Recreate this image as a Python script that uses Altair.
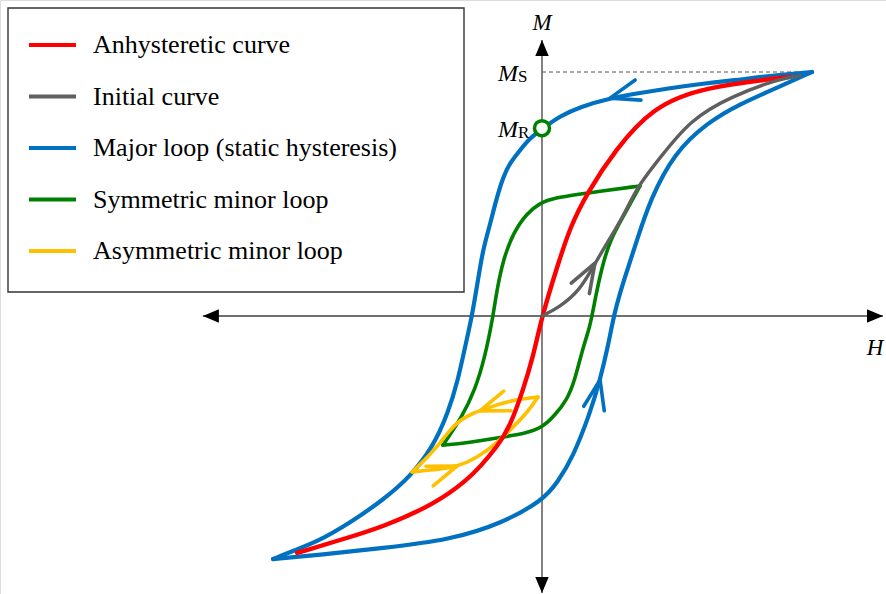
import altair as alt
import pandas as pd

# ---------------------------------------------------------------------------
# Curve samples: H in arbitrary field units, M normalised so that M_S = 1
# ---------------------------------------------------------------------------
SERIES = ["Anhysteretic curve", "Initial curve", "Major loop (static hysteresis)",
          "Symmetric minor loop", "Asymmetric minor loop"]
COLORS = ["#ff0000", "#5f5f5f", "#0070c0", "#008000", "#ffc000"]

# major loop, descending branch (+saturation -> -saturation)
major_down_h = [10.00, 8.07, 7.22, 5.85, 4.74, 3.63, 2.52, 1.41, 0.67, 0.04, -0.44,
                -0.81, -1.19, -1.44, -1.70, -1.93, -2.19, -2.37, -2.59, -2.85, -3.11,
                -3.48, -4.04, -4.89, -5.89, -7.11, -8.33, -9.33, -9.96]
major_down_m = [1.000, 0.980, 0.967, 0.951, 0.934, 0.914, 0.893, 0.857, 0.820, 0.770, 0.730,
                0.680, 0.627, 0.570, 0.475, 0.373, 0.270, 0.148, 0.000, -0.127, -0.262,
                -0.398, -0.537, -0.660, -0.754, -0.848, -0.926, -0.967, -0.996]
# major loop, ascending branch (-saturation -> +saturation)
major_up_h = [-9.96, -8.33, -5.89, -3.41, -1.44, 0.04, 0.56, 1.15, 1.78, 2.15, 2.44,
              2.70, 3.07, 3.52, 4.00, 4.89, 6.15, 7.33, 8.67, 10.00]
major_up_m = [-0.996, -0.980, -0.951, -0.918, -0.848, -0.754, -0.684, -0.578, -0.398, -0.262, -0.127,
              0.025, 0.160, 0.311, 0.475, 0.668, 0.795, 0.869, 0.934, 1.000]

# anhysteretic curve
anhys_h = [-9.07, -7.48, -5.89, -3.89, -2.78, -2.30, -1.67, -1.19, -0.70, -0.33, 0.00,
           0.56, 1.04, 1.67, 2.70, 4.11, 5.96, 9.19]
anhys_m = [-0.971, -0.918, -0.865, -0.766, -0.672, -0.619, -0.537, -0.455, -0.303, -0.168, 0.000,
           0.201, 0.365, 0.504, 0.680, 0.857, 0.939, 0.980]

# initial magnetisation curve
init_h = [0.00, 0.67, 1.41, 1.89, 2.41, 3.00, 3.52, 4.37, 5.48, 6.96, 8.85, 9.56]
init_m = [0.000, 0.037, 0.107, 0.201, 0.299, 0.406, 0.529, 0.648, 0.803, 0.898, 0.975, 0.984]

# symmetric minor loop
sym_down_h = [3.63, 1.67, 0.41, -0.07, -0.56, -1.07, -1.44, -1.67, -1.81, -2.11, -2.48, -2.96, -3.67]
sym_down_m = [0.533, 0.504, 0.484, 0.463, 0.422, 0.340, 0.230, 0.107, 0.000, -0.168, -0.303, -0.414, -0.529]
sym_up_h = [-3.67, -2.78, -1.67, -0.56, 0.04, 0.48, 0.93, 1.22, 1.52, 1.78, 1.96, 2.22, 2.52, 3.00, 3.63]
sym_up_m = [-0.529, -0.520, -0.500, -0.480, -0.455, -0.406, -0.344, -0.262, -0.127, -0.045, 0.066,
            0.201, 0.311, 0.406, 0.533]

# asymmetric minor loop
asym_down_h = [-0.15, -1.07, -1.93, -2.56, -3.04, -3.41, -3.89, -4.41, -4.81]
asym_down_m = [-0.332, -0.344, -0.373, -0.398, -0.426, -0.467, -0.537, -0.598, -0.639]
asym_up_h = [-4.81, -4.04, -3.15, -2.41, -1.67, -1.07, -0.56, -0.15]
asym_up_m = [-0.639, -0.631, -0.619, -0.582, -0.520, -0.455, -0.398, -0.332]

# direction arrows drawn on the curves
arrow_series = [SERIES[2], SERIES[2], SERIES[1], SERIES[4], SERIES[4]]
arrow_h = [2.52, 2.15, 1.96, -2.30, -3.15]
arrow_m = [0.893, -0.262, 0.217, -0.389, -0.615]
arrow_angle = [164, 282, 300, 160, 340]

# characteristic values
M_S = 1.0
M_R = 0.77
H_MAX = 10.0

# axis extents (arrow tips)
h_axis = [-12.56, 12.63]
m_axis = [-1.135, 1.131]

# ---------------------------------------------------------------------------
rows = []
branches = [
    (SERIES[2], "major_down", major_down_h, major_down_m),
    (SERIES[2], "major_up", major_up_h, major_up_m),
    (SERIES[0], "anhys", anhys_h, anhys_m),
    (SERIES[1], "init", init_h, init_m),
    (SERIES[3], "sym_down", sym_down_h, sym_down_m),
    (SERIES[3], "sym_up", sym_up_h, sym_up_m),
    (SERIES[4], "asym_down", asym_down_h, asym_down_m),
    (SERIES[4], "asym_up", asym_up_h, asym_up_m),
]
for series, branch, hs, ms in branches:
    for i, (h, m) in enumerate(zip(hs, ms)):
        rows.append({"series": series, "branch": branch, "idx": i, "H": h, "M": m})
curves = pd.DataFrame(rows)

arrows = pd.DataFrame({"series": arrow_series, "H": arrow_h, "M": arrow_m, "angle": arrow_angle})

axes_df = pd.DataFrame({
    "H": [h_axis[0], 0.0], "H2": [h_axis[1], 0.0],
    "M": [0.0, m_axis[0]], "M2": [0.0, m_axis[1]],
})
tips_df = pd.DataFrame({
    "H": [h_axis[0], h_axis[1], 0.0, 0.0],
    "M": [0.0, 0.0, m_axis[0], m_axis[1]],
    "angle": [180, 0, 90, 270],
})
sat_df = pd.DataFrame({"H": [0.0], "H2": [H_MAX], "M": [M_S]})
mr_df = pd.DataFrame({"H": [0.0], "M": [M_R]})

W, H = 886, 594
FONT = "Liberation Serif"
xs = alt.Scale(domain=[-20.074, 12.741], nice=False, zero=False)
ys = alt.Scale(domain=[-1.1393, 1.2951], nice=False, zero=False)
X = alt.X("H:Q", scale=xs, axis=None)
Y = alt.Y("M:Q", scale=ys, axis=None)

legend = alt.Legend(
    orient="none", legendX=27, legendY=19.5, title=None,
    symbolType="stroke", symbolSize=2209, symbolStrokeWidth=4,
    labelFont=FONT, labelFontSize=26, labelColor="black", labelLimit=600,
    labelOffset=15, rowPadding=12.5, padding=0, symbolOffset=0,
)
COLOR = alt.Color("series:N", scale=alt.Scale(domain=SERIES, range=COLORS), legend=legend)

frame = alt.Chart(pd.DataFrame({"k": [0]})).mark_rect(
    fill="white", stroke="#333333", strokeWidth=1.4
).encode(x=alt.value(8), x2=alt.value(464), y=alt.value(8), y2=alt.value(292))

axis_lines = alt.Chart(axes_df).mark_rule(color="#404040", strokeWidth=1.3).encode(
    x=X, x2="H2:Q", y=Y, y2="M2:Q")

axis_tips = alt.Chart(tips_df).mark_point(
    shape="M 0 0 L -1 -0.42 L -1 0.42 Z", filled=True, size=1024, color="black", opacity=1
).encode(x=X, y=Y, angle=alt.Angle("angle:Q", scale=None))

sat_line = alt.Chart(sat_df).mark_rule(
    color="#555555", strokeWidth=1, strokeDash=[4, 3]
).encode(x=X, x2="H2:Q", y=Y)


def curve_layer(series, width):
    return alt.Chart(curves).transform_filter(
        alt.datum.series == series
    ).mark_line(
        strokeWidth=width, interpolate="basis", strokeCap="round", strokeJoin="round"
    ).encode(x=X, y=Y, color=COLOR, detail="branch:N", order="idx:Q")


lines = [
    curve_layer(SERIES[2], 4.2),
    curve_layer(SERIES[3], 3.6),
    curve_layer(SERIES[4], 3.6),
    curve_layer(SERIES[0], 4.4),
    curve_layer(SERIES[1], 3.4),
]

arrow_marks = alt.Chart(arrows).mark_point(
    shape="M -1 -0.36 L 0 0 L -1 0.36", filled=False, size=3400, strokeWidth=3.6,
    strokeCap="round", strokeJoin="round", opacity=1
).encode(x=X, y=Y, color=COLOR, angle=alt.Angle("angle:Q", scale=None))

mr_point = alt.Chart(mr_df).mark_point(
    shape="circle", size=225, filled=True, fill="white", stroke="#008000",
    strokeWidth=3.5, opacity=1
).encode(x=X, y=Y)

label_m = alt.Chart(pd.DataFrame({"H": [0.0], "M": [m_axis[1]], "t": ["M"]})).mark_text(
    font=FONT, fontStyle="italic", fontSize=23, align="center", baseline="alphabetic", dy=-10
).encode(x=X, y=Y, text="t:N")

label_h = alt.Chart(pd.DataFrame({"H": [h_axis[1]], "M": [0.0], "t": ["H"]})).mark_text(
    font=FONT, fontStyle="italic", fontSize=23, align="center", baseline="alphabetic", dx=-8, dy=39
).encode(x=X, y=Y, text="t:N")

sym_df = pd.DataFrame({"H": [0.0, 0.0], "M": [M_S, M_R], "sub": ["S", "R"]})
sym_main = alt.Chart(sym_df).mark_text(
    font=FONT, fontStyle="italic", fontSize=24, align="right", baseline="alphabetic",
    dx=-24, dy=9
).encode(x=X, y=Y, text=alt.value("M"))
sym_sub = alt.Chart(sym_df).mark_text(
    font=FONT, fontSize=17, align="left", baseline="alphabetic", dx=-24, dy=10
).encode(x=X, y=Y, text="sub:N")

chart = alt.layer(
    frame, axis_lines, sat_line, *lines, arrow_marks, axis_tips, mr_point,
    label_m, label_h, sym_main, sym_sub
).properties(
    width=W, height=H, padding=0, autosize=alt.AutoSizeParams(type="none")
).configure_view(stroke=None).configure_legend(
    labelFont=FONT
).configure(background="white")

chart.save("out.html", embed_options={"renderer": "svg", "actions": False})
